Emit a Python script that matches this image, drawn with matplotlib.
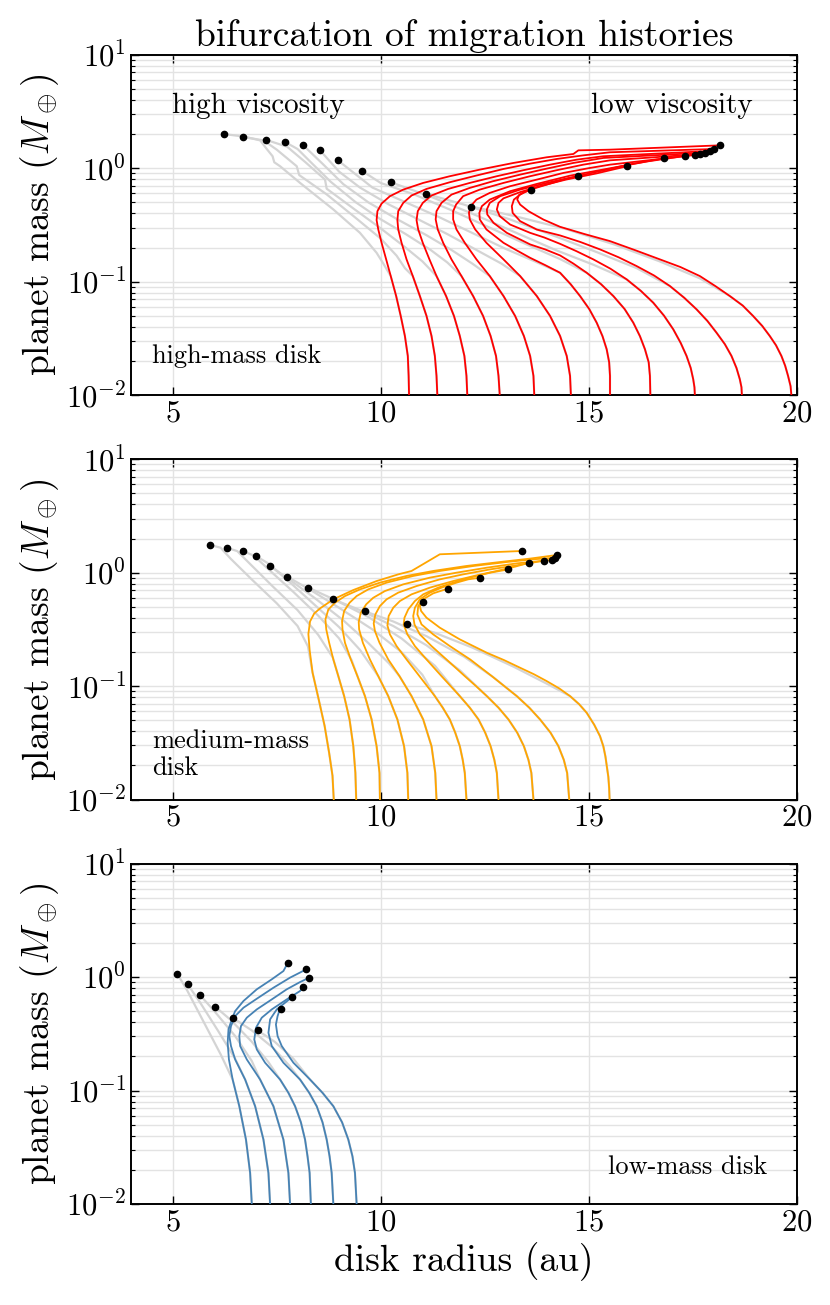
import numpy as np
import matplotlib.pyplot as plt

plt.rcParams['font.family'] = 'cmr10'
plt.rcParams['mathtext.fontset'] = 'cm'
plt.rcParams['axes.formatter.use_mathtext'] = True

# radius (au) and log10 planet mass (M_earth) along each track.
# coloured = low viscosity, grey tails = high viscosity part after the split

# ---- high-mass disk (red) ----
high_r = [
    [10.68, 10.67, 10.65, 10.58, 10.48, 10.37, 10.24, 10.13, 10.02, 9.94, 9.90, 9.92, 10.02, 10.22, 10.54, 11.02, 11.66, 12.38, 13.19, 13.99, 14.63, 14.75, 15.51, 18.15],
    [11.36, 11.34, 11.30, 11.22, 11.10, 10.94, 10.77, 10.62, 10.50, 10.42, 10.40, 10.42, 10.54, 10.74, 11.10, 11.66, 12.30, 12.95, 13.59, 14.23, 14.87, 15.51, 18.02],
    [12.08, 12.06, 12.01, 11.90, 11.76, 11.57, 11.34, 11.17, 11.01, 10.90, 10.86, 10.89, 11.01, 11.22, 11.62, 12.14, 12.79, 13.43, 14.07, 14.71, 15.35, 17.91],
    [12.86, 12.83, 12.77, 12.64, 12.46, 12.22, 11.94, 11.70, 11.50, 11.37, 11.32, 11.34, 11.46, 11.70, 12.14, 12.70, 13.35, 13.99, 14.63, 15.35, 17.80],
    [13.69, 13.67, 13.59, 13.44, 13.23, 12.95, 12.62, 12.30, 12.02, 11.82, 11.74, 11.74, 11.81, 11.98, 12.38, 12.95, 13.59, 14.23, 14.87, 15.51, 17.68],
    [14.57, 14.55, 14.47, 14.31, 14.07, 13.75, 13.35, 12.95, 12.54, 12.27, 12.14, 12.12, 12.16, 12.30, 12.62, 13.11, 13.75, 14.39, 15.03, 15.51, 17.55],
    [15.51, 15.51, 15.49, 15.43, 15.33, 15.19, 15.01, 14.79, 14.56, 14.31, 13.96, 13.59, 13.25, 12.95, 12.54, 12.38, 12.37, 12.43, 12.62, 13.11, 13.75, 14.55, 15.51, 16.40, 17.32],
    [16.48, 16.47, 16.44, 16.35, 16.23, 16.07, 15.86, 15.59, 15.29, 14.95, 14.63, 14.31, 13.95, 13.59, 13.03, 12.71, 12.56, 12.55, 12.62, 12.87, 13.35, 13.99, 14.71, 15.40, 15.92, 16.81],
    [17.55, 17.54, 17.51, 17.45, 17.35, 17.21, 17.03, 16.81, 16.55, 16.25, 15.91, 15.52, 15.11, 14.70, 14.31, 13.93, 13.59, 13.11, 12.86, 12.79, 12.83, 12.95, 13.35, 13.85, 14.45, 15.19, 15.92],
    [18.68, 18.67, 18.63, 18.55, 18.43, 18.27, 18.07, 17.85, 17.59, 17.29, 16.95, 16.57, 16.15, 15.72, 15.27, 14.80, 14.31, 13.75, 13.35, 13.17, 13.15, 13.20, 13.35, 13.59, 13.99, 14.39, 14.73],
    [19.87, 19.85, 19.79, 19.72, 19.63, 19.50, 19.35, 19.17, 18.95, 18.70, 18.39, 18.05, 17.67, 17.20, 16.71, 16.10, 15.51, 14.90, 14.31, 13.91, 13.55, 13.35, 13.28, 13.32, 13.43, 13.61],
]
high_lgm = [
    [-2.0, -1.83, -1.654, -1.478, -1.302, -1.126, -0.95, -0.803, -0.657, -0.539, -0.457, -0.378, -0.311, -0.246, -0.188, -0.129, -0.070, -0.012, 0.047, 0.097, 0.126, 0.158, 0.164, 0.202],
    [-2.0, -1.83, -1.654, -1.478, -1.302, -1.126, -0.95, -0.803, -0.657, -0.539, -0.457, -0.378, -0.305, -0.240, -0.182, -0.123, -0.064, -0.006, 0.041, 0.082, 0.114, 0.141, 0.170],
    [-2.0, -1.83, -1.654, -1.478, -1.302, -1.126, -0.95, -0.803, -0.657, -0.539, -0.457, -0.378, -0.305, -0.240, -0.182, -0.129, -0.070, -0.017, 0.032, 0.076, 0.106, 0.152],
    [-2.0, -1.83, -1.654, -1.478, -1.302, -1.126, -0.95, -0.803, -0.657, -0.539, -0.451, -0.378, -0.305, -0.232, -0.173, -0.114, -0.056, -0.003, 0.047, 0.091, 0.138],
    [-2.0, -1.83, -1.654, -1.478, -1.302, -1.126, -0.95, -0.803, -0.657, -0.539, -0.451, -0.378, -0.320, -0.246, -0.188, -0.129, -0.070, -0.017, 0.032, 0.070, 0.125],
    [-2.0, -1.83, -1.654, -1.478, -1.302, -1.126, -0.95, -0.803, -0.657, -0.539, -0.451, -0.393, -0.334, -0.276, -0.217, -0.158, -0.100, -0.041, 0.003, 0.032, 0.117],
    [-2.0, -1.83, -1.71, -1.595, -1.48, -1.361, -1.24, -1.126, -1.02, -0.921, -0.855, -0.789, -0.72, -0.657, -0.539, -0.451, -0.393, -0.334, -0.276, -0.202, -0.138, -0.065, 0.0, 0.06, 0.109],
    [-2.0, -1.83, -1.71, -1.595, -1.48, -1.361, -1.24, -1.126, -1.02, -0.921, -0.84, -0.768, -0.715, -0.671, -0.569, -0.481, -0.407, -0.363, -0.305, -0.246, -0.188, -0.129, -0.070, -0.015, 0.03, 0.088],
    [-2.0, -1.93, -1.859, -1.76, -1.654, -1.54, -1.419, -1.30, -1.185, -1.08, -0.979, -0.885, -0.803, -0.73, -0.666, -0.61, -0.569, -0.496, -0.422, -0.363, -0.305, -0.265, -0.21, -0.155, -0.10, -0.045, 0.018],
    [-2.0, -1.93, -1.859, -1.76, -1.654, -1.55, -1.449, -1.345, -1.243, -1.14, -1.038, -0.945, -0.862, -0.785, -0.715, -0.65, -0.592, -0.54, -0.466, -0.393, -0.334, -0.276, -0.232, -0.188, -0.144, -0.10, -0.070],
    [-2.0, -1.92, -1.83, -1.74, -1.654, -1.56, -1.478, -1.39, -1.302, -1.21, -1.126, -1.04, -0.95, -0.87, -0.803, -0.72, -0.642, -0.58, -0.516, -0.452, -0.378, -0.32, -0.276, -0.237, -0.211, -0.190],
]
high_gr = [
    [10.24, 10.05, 9.90, 9.50, 8.86, 8.06, 7.58, 7.44, 7.40, 7.26, 7.10, 6.70, 6.22],
    [10.77, 10.58, 10.38, 10.0, 9.34, 8.70, 8.04, 7.98, 7.50, 7.18, 6.69],
    [11.34, 11.0, 10.6, 10.0, 9.40, 8.70, 8.66, 8.2, 7.75, 7.23],
    [11.94, 11.6, 11.2, 10.6, 10.0, 9.4, 8.8, 8.3, 8.0, 7.71],
    [12.62, 12.2, 11.7, 11.1, 10.4, 9.7, 9.1, 8.6, 8.14],
    [13.35, 12.9, 12.3, 11.6, 10.9, 10.2, 9.5, 9.0, 8.53],
    [14.31, 13.7, 13.0, 12.2, 11.4, 10.6, 9.8, 8.97],
    [14.95, 14.31, 13.5, 12.6, 11.7, 10.8, 10.0, 9.55],
    [15.91, 15.11, 14.2, 13.2, 12.2, 11.2, 10.24],
    [16.95, 16.15, 15.2, 14.2, 13.1, 12.0, 11.09],
    [18.39, 17.67, 16.7, 15.6, 14.4, 13.2, 12.18],
]
high_glgm = [
    [-0.95, -0.833, -0.745, -0.569, -0.363, -0.129, 0.018, 0.053, 0.106, 0.17, 0.246, 0.28, 0.302],
    [-0.95, -0.88, -0.77, -0.62, -0.42, -0.23, -0.06, 0.018, 0.164, 0.246, 0.276],
    [-0.95, -0.82, -0.70, -0.53, -0.37, -0.18, -0.10, 0.05, 0.19, 0.252],
    [-0.95, -0.83, -0.72, -0.58, -0.45, -0.30, -0.12, 0.06, 0.17, 0.229],
    [-0.95, -0.84, -0.72, -0.59, -0.45, -0.30, -0.14, 0.04, 0.202],
    [-0.95, -0.84, -0.72, -0.58, -0.45, -0.32, -0.17, -0.03, 0.162],
    [-0.921, -0.82, -0.71, -0.57, -0.43, -0.30, -0.17, 0.070],
    [-0.921, -0.80, -0.67, -0.52, -0.37, -0.23, -0.13, -0.023],
    [-0.979, -0.85, -0.72, -0.56, -0.40, -0.25, -0.123],
    [-1.038, -0.88, -0.74, -0.60, -0.45, -0.32, -0.225],
    [-1.126, -0.97, -0.82, -0.67, -0.53, -0.42, -0.337],
]

# ---- medium-mass disk (orange) ----
med_r = [
    [8.87, 8.84, 8.76, 8.65, 8.51, 8.36, 8.29, 8.26, 8.30, 8.40, 8.54, 8.86, 9.34, 9.90, 10.42, 10.74, 11.42, 13.39],
    [9.41, 9.39, 9.34, 9.25, 9.12, 8.98, 8.86, 8.76, 8.69, 8.67, 8.74, 8.90, 9.14, 9.50, 9.98, 10.62, 11.26, 12.06, 12.87, 13.59, 14.24],
    [9.98, 9.97, 9.90, 9.78, 9.62, 9.44, 9.28, 9.14, 9.08, 9.07, 9.12, 9.25, 9.42, 9.70, 10.14, 10.78, 11.42, 12.23, 13.03, 13.67, 14.20],
    [10.66, 10.64, 10.56, 10.40, 10.18, 9.94, 9.74, 9.57, 9.48, 9.47, 9.52, 9.65, 9.82, 10.10, 10.54, 11.18, 11.82, 12.55, 13.27, 14.12],
    [11.34, 11.31, 11.22, 11.02, 10.74, 10.45, 10.18, 9.97, 9.86, 9.83, 9.87, 9.98, 10.14, 10.42, 10.86, 11.42, 11.98, 12.63, 13.27, 13.93],
    [12.06, 12.02, 11.97, 11.90, 11.79, 11.66, 11.49, 11.30, 10.93, 10.62, 10.38, 10.22, 10.16, 10.19, 10.30, 10.46, 10.74, 11.18, 11.74, 12.30, 12.79, 13.23, 13.57],
    [12.83, 12.79, 12.73, 12.64, 12.51, 12.35, 12.14, 11.90, 11.68, 11.46, 11.10, 10.82, 10.64, 10.55, 10.57, 10.66, 10.82, 11.02, 11.38, 11.74, 12.14, 12.63, 13.07],
    [13.67, 13.62, 13.55, 13.44, 13.28, 13.07, 12.83, 12.55, 12.29, 12.02, 11.58, 11.22, 10.94, 10.81, 10.78, 10.82, 10.94, 11.18, 11.46, 11.82, 12.10, 12.38],
    [14.53, 14.48, 14.40, 14.27, 14.08, 13.83, 13.57, 13.27, 12.97, 12.67, 12.15, 11.66, 11.26, 10.98, 10.88, 10.90, 11.02, 11.26, 11.61],
    [15.50, 15.49, 15.47, 15.40, 15.35, 15.27, 15.13, 14.95, 14.77, 14.55, 14.29, 13.99, 13.68, 13.35, 12.96, 12.55, 11.90, 11.42, 11.10, 10.97, 10.94, 11.01],
]
med_lgm = [
    [-2.0, -1.79, -1.59, -1.35, -1.12, -0.88, -0.68, -0.54, -0.43, -0.36, -0.315, -0.235, -0.153, -0.074, -0.015, 0.015, 0.162, 0.191],
    [-2.0, -1.765, -1.529, -1.294, -1.088, -0.912, -0.765, -0.618, -0.500, -0.412, -0.324, -0.265, -0.206, -0.147, -0.088, -0.029, 0.015, 0.059, 0.094, 0.124, 0.156],
    [-2.0, -1.765, -1.529, -1.294, -1.088, -0.912, -0.765, -0.618, -0.500, -0.426, -0.338, -0.265, -0.206, -0.147, -0.088, -0.029, 0.015, 0.059, 0.094, 0.118, 0.132],
    [-2.0, -1.765, -1.529, -1.294, -1.088, -0.912, -0.765, -0.618, -0.500, -0.435, -0.353, -0.279, -0.221, -0.162, -0.103, -0.044, 0.000, 0.044, 0.082, 0.112],
    [-2.0, -1.765, -1.529, -1.294, -1.088, -0.912, -0.765, -0.618, -0.515, -0.447, -0.368, -0.294, -0.235, -0.176, -0.118, -0.059, -0.015, 0.029, 0.065, 0.106],
    [-2.0, -1.765, -1.65, -1.529, -1.41, -1.294, -1.19, -1.088, -0.912, -0.765, -0.647, -0.544, -0.465, -0.382, -0.309, -0.250, -0.191, -0.132, -0.074, -0.024, 0.015, 0.053, 0.088],
    [-2.0, -1.765, -1.65, -1.529, -1.41, -1.294, -1.19, -1.088, -1.00, -0.912, -0.765, -0.647, -0.544, -0.456, -0.397, -0.324, -0.250, -0.191, -0.132, -0.088, -0.044, 0.0, 0.029],
    [-2.0, -1.765, -1.65, -1.529, -1.41, -1.294, -1.19, -1.088, -1.00, -0.912, -0.765, -0.647, -0.544, -0.456, -0.382, -0.309, -0.235, -0.176, -0.132, -0.088, -0.059, -0.044],
    [-2.0, -1.765, -1.65, -1.529, -1.41, -1.294, -1.19, -1.088, -1.00, -0.912, -0.765, -0.647, -0.544, -0.456, -0.368, -0.294, -0.235, -0.182, -0.141],
    [-2.0, -1.90, -1.80, -1.62, -1.53, -1.441, -1.34, -1.235, -1.16, -1.088, -1.02, -0.956, -0.895, -0.838, -0.77, -0.706, -0.588, -0.485, -0.397, -0.338, -0.294, -0.262],
]
med_gr = [
    [8.36, 8.25, 8.0, 7.5, 6.9, 6.40, 6.15, 5.90],
    [8.98, 8.85, 8.5, 8.0, 7.4, 6.85, 6.55, 6.31],
    [9.44, 9.3, 9.0, 8.5, 7.9, 7.3, 6.95, 6.68],
    [9.94, 9.5, 9.0, 8.4, 7.8, 7.3, 7.00],
    [10.45, 10.2, 9.7, 9.1, 8.4, 7.8, 7.34],
    [11.30, 11.0, 10.5, 9.8, 9.0, 8.3, 7.75],
    [11.90, 11.3, 10.5, 9.7, 8.9, 8.26],
    [12.55, 11.9, 11.1, 10.3, 9.5, 8.86],
    [13.27, 12.7, 12.0, 11.1, 10.3, 9.62],
    [14.55, 14.0, 13.2, 12.2, 11.3, 10.62],
]
med_glgm = [
    [-0.88, -0.65, -0.47, -0.27, -0.06, 0.12, 0.22, 0.244],
    [-0.912, -0.75, -0.55, -0.33, -0.12, 0.08, 0.19, 0.218],
    [-0.912, -0.77, -0.58, -0.38, -0.17, 0.03, 0.15, 0.191],
    [-0.912, -0.68, -0.48, -0.28, -0.08, 0.08, 0.147],
    [-0.912, -0.80, -0.62, -0.42, -0.22, -0.06, 0.059],
    [-1.088, -0.90, -0.70, -0.50, -0.31, -0.15, -0.035],
    [-1.088, -0.82, -0.58, -0.39, -0.24, -0.132],
    [-1.088, -0.86, -0.64, -0.47, -0.33, -0.235],
    [-1.088, -0.92, -0.74, -0.56, -0.43, -0.341],
    [-1.088, -0.98, -0.83, -0.66, -0.53, -0.453],
]

# ---- low-mass disk (blue) ----
low_r = [
    [6.90, 6.86, 6.76, 6.60, 6.44, 6.35, 6.32, 6.34, 6.42, 6.50, 6.70, 7.02, 7.38, 7.66, 7.76],
    [7.34, 7.30, 7.18, 6.98, 6.74, 6.50, 6.40, 6.36, 6.40, 6.50, 6.70, 7.02, 7.42, 7.82, 8.21],
    [7.82, 7.78, 7.66, 7.42, 7.10, 6.78, 6.62, 6.60, 6.64, 6.78, 7.02, 7.38, 7.74, 8.06, 8.28],
    [8.32, 8.29, 8.24, 8.18, 8.08, 7.94, 7.78, 7.58, 7.22, 7.02, 6.96, 7.00, 7.14, 7.38, 7.74, 8.06, 8.14],
    [8.86, 8.82, 8.77, 8.70, 8.60, 8.46, 8.28, 8.06, 7.66, 7.38, 7.30, 7.34, 7.50, 7.70, 7.86],
    [9.42, 9.38, 9.32, 9.22, 9.07, 8.86, 8.60, 8.30, 7.90, 7.62, 7.52, 7.48, 7.52, 7.56, 7.60],
]
low_lgm = [
    [-2.0, -1.726, -1.432, -1.138, -0.903, -0.726, -0.579, -0.461, -0.373, -0.300, -0.211, -0.108, -0.020, 0.053, 0.121],
    [-2.0, -1.726, -1.432, -1.138, -0.903, -0.726, -0.608, -0.520, -0.432, -0.344, -0.270, -0.191, -0.094, -0.005, 0.068],
    [-2.0, -1.726, -1.432, -1.138, -0.903, -0.726, -0.608, -0.520, -0.432, -0.358, -0.285, -0.197, -0.108, -0.044, -0.005],
    [-2.0, -1.726, -1.58, -1.432, -1.28, -1.138, -1.02, -0.903, -0.755, -0.638, -0.550, -0.447, -0.358, -0.285, -0.197, -0.123, -0.085],
    [-2.0, -1.726, -1.58, -1.432, -1.28, -1.138, -1.02, -0.903, -0.755, -0.608, -0.491, -0.373, -0.285, -0.226, -0.179],
    [-2.0, -1.726, -1.58, -1.432, -1.28, -1.138, -1.02, -0.903, -0.755, -0.608, -0.520, -0.418, -0.344, -0.300, -0.282],
]
low_gr = [
    [6.44, 6.15, 5.75, 5.35, 5.11],
    [6.74, 6.5, 6.1, 5.65, 5.36],
    [7.10, 6.9, 6.5, 6.0, 5.66],
    [7.58, 7.3, 6.9, 6.4, 6.02],
    [8.06, 7.8, 7.4, 6.9, 6.46],
    [8.30, 7.9, 7.45, 7.04],
]
low_glgm = [
    [-0.903, -0.68, -0.40, -0.12, 0.029],
    [-0.903, -0.72, -0.48, -0.22, -0.065],
    [-0.903, -0.74, -0.52, -0.30, -0.161],
    [-0.903, -0.75, -0.57, -0.38, -0.261],
    [-0.903, -0.78, -0.62, -0.47, -0.364],
    [-0.903, -0.72, -0.57, -0.470],
]


def draw(ax, rs, lgms, grs, glgms, color):
    ends_r, ends_lm = [], []
    for r, lm, gr, glm in zip(rs, lgms, grs, glgms):
        r = np.array(r)
        lm = np.array(lm)
        keep = lm < glm[0]
        gx = np.concatenate([r[keep], gr])
        gy = np.concatenate([lm[keep], glm])
        ax.plot(gx, 10 ** gy, color='#d4d4d4', lw=1.6, zorder=2, solid_joinstyle='round')
        ends_r += [r[-1], gr[-1]]
        ends_lm += [lm[-1], glm[-1]]
    for r, lm in zip(rs, lgms):
        ax.plot(r, 10 ** np.array(lm), color=color, lw=1.3, zorder=3, solid_joinstyle='round')
    ax.plot(ends_r, 10 ** np.array(ends_lm), 'o', color='k', ms=4.5, zorder=4)


fig, axes = plt.subplots(3, 1, figsize=(8.3, 13.05), dpi=100)
fig.subplots_adjust(left=0.158, right=0.960, top=0.958, bottom=0.0774, hspace=0.188)

draw(axes[0], high_r, high_lgm, high_gr, high_glgm, '#ff0000')
draw(axes[1], med_r, med_lgm, med_gr, med_glgm, '#ffa500')
draw(axes[2], low_r, low_lgm, low_gr, low_glgm, '#4682b4')

for ax in axes:
    ax.set_yscale('log')
    ax.set_xlim(4, 20)
    ax.set_ylim(1e-2, 1e1)
    ax.set_xticks([5, 10, 15, 20])
    ax.set_axisbelow(True)
    ax.grid(True, which='both', axis='y', color='#e3e3e3', lw=1.0)
    ax.grid(True, which='major', axis='x', color='#e3e3e3', lw=1.0)
    ax.tick_params(which='both', direction='in', top=True, right=True, labelsize=22)
    ax.tick_params(which='major', length=6, width=1)
    ax.tick_params(which='minor', length=3, width=0.8)
    for s in ax.spines.values():
        s.set_linewidth(1.4)
    ax.set_ylabel(r'planet mass ($M_\oplus$)', fontsize=27)

axes[0].set_title('bifurcation of migration histories', fontsize=27, pad=6)
axes[2].set_xlabel('disk radius (au)', fontsize=27)

axes[0].text(0.062, 0.85, 'high viscosity', fontsize=21, transform=axes[0].transAxes, va='center')
axes[0].text(0.934, 0.85, 'low viscosity', fontsize=21, transform=axes[0].transAxes, va='center', ha='right')
axes[0].text(0.032, 0.114, 'high-mass disk', fontsize=19, transform=axes[0].transAxes, va='center')
axes[1].text(0.032, 0.132, 'medium-mass\ndisk', fontsize=19, transform=axes[1].transAxes, va='center')
axes[2].text(0.956, 0.109, 'low-mass disk', fontsize=19, transform=axes[2].transAxes, va='center', ha='right')

fig.savefig('out.png', dpi=100)
